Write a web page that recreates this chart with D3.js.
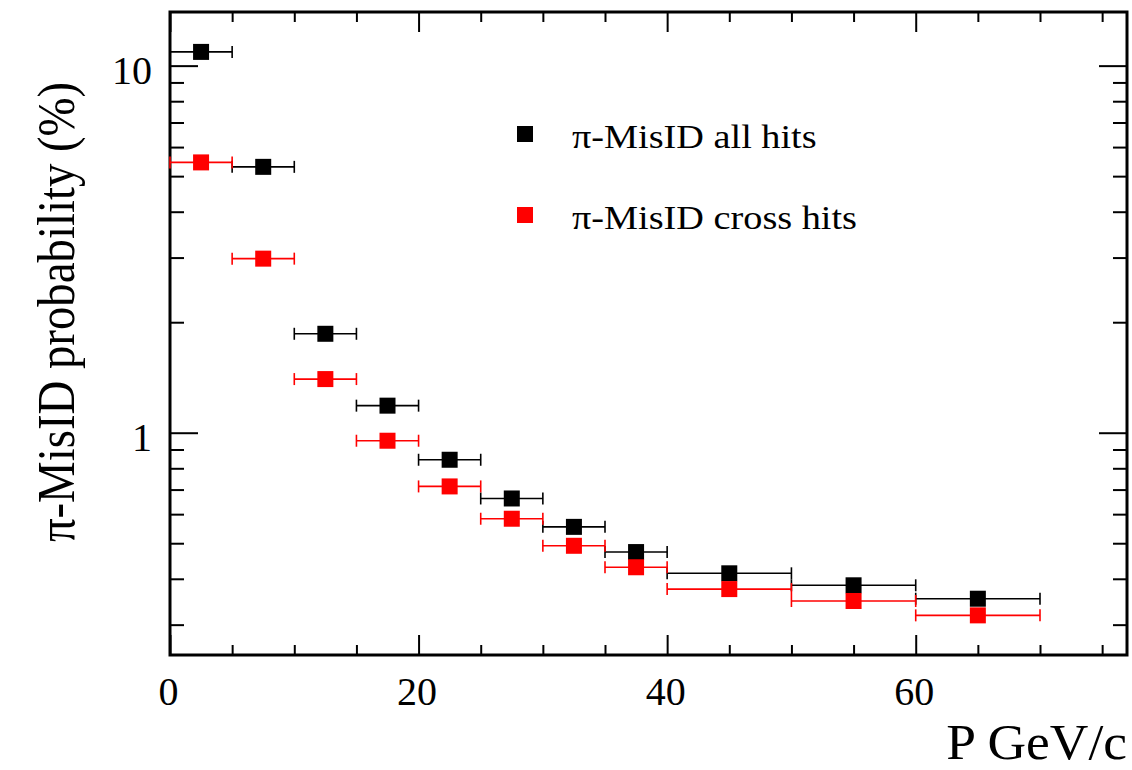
<!DOCTYPE html>
<html>
<head>
<meta charset="utf-8">
<script src="https://cdn.jsdelivr.net/npm/d3@7"></script>
<style>
  html, body { margin: 0; padding: 0; background: #fff; }
  svg { display: block; }
  text { font-family: "Liberation Serif", "DejaVu Serif", serif; fill: #000; }
</style>
</head>
<body>
<svg id="chart" width="1132" height="770"></svg>
<script>
// Momentum bins (GeV/c)
const binLow  = [0, 5, 10, 15, 20, 25, 30, 35, 40, 50, 60];
const binHigh = [5, 10, 15, 20, 25, 30, 35, 40, 50, 60, 70];

// Pion mis-identification probability (%) per bin
const allHits   = [10.9, 5.30, 1.86, 1.185, 0.844, 0.662, 0.554, 0.473, 0.414, 0.384, 0.353];
const crossHits = [5.45, 2.98, 1.40, 0.951, 0.714, 0.583, 0.492, 0.430, 0.375, 0.348, 0.318];

const seriesNames  = ["π-MisID all hits", "π-MisID cross hits"];
const seriesColors = ["#000000", "#ff0000"];

// Axis ticks and labels
const xMajorTicks = [0, 20, 40, 60];
const xMinorTicks = [5, 10, 15, 25, 30, 35, 45, 50, 55, 65, 70, 75];
const yMajorTicks = [1, 10];
const yMajorLabels = ["1", "10"];
const yMinorTicks = [0.3, 0.4, 0.5, 0.6, 0.7, 0.8, 0.9, 2, 3, 4, 5, 6, 7, 8, 9];

const xTitle = "P GeV/c";
const yTitle = "π-MisID probability (%)";

const svg = d3.select("#chart");
const frame = { left: 170, right: 1127, top: 12, bottom: 655 };

const x = d3.scaleLinear().domain([0, 77]).range([frame.left, frame.right]);
const y = d3.scaleLog().domain([0.248, 14.0]).range([frame.bottom, frame.top]);

// --- ticks on all four sides, pointing inward ---
function styleAxis(g) {
  g.select(".domain").remove();
  g.selectAll(".tick line").attr("stroke", "#000").attr("stroke-width", 2);
}

// bottom
svg.append("g").attr("transform", `translate(0,${frame.bottom})`)
  .call(d3.axisBottom(x).tickValues(xMajorTicks).tickSize(-20).tickPadding(0)
        .tickFormat(d3.format("d")))
  .call(styleAxis)
  .call(g => g.selectAll(".tick text")
      .attr("y", 0).attr("dy", 50).attr("dx", -2)
      .attr("font-size", 40).attr("font-family", "Liberation Serif"));
svg.append("g").attr("transform", `translate(0,${frame.bottom})`)
  .call(d3.axisBottom(x).tickValues(xMinorTicks).tickSize(-10).tickFormat(""))
  .call(styleAxis);

// top
svg.append("g").attr("transform", `translate(0,${frame.top})`)
  .call(d3.axisTop(x).tickValues(xMajorTicks).tickSize(-20).tickFormat(""))
  .call(styleAxis);
svg.append("g").attr("transform", `translate(0,${frame.top})`)
  .call(d3.axisTop(x).tickValues(xMinorTicks).tickSize(-10).tickFormat(""))
  .call(styleAxis);

// left
svg.append("g").attr("transform", `translate(${frame.left},0)`)
  .call(d3.axisLeft(y).tickValues(yMajorTicks).tickSize(-28).tickPadding(18)
        .tickFormat((d, i) => yMajorLabels[i]))
  .call(styleAxis)
  .call(g => g.selectAll(".tick text")
      .attr("dy", 18).attr("font-size", 40).attr("font-family", "Liberation Serif"));
svg.append("g").attr("transform", `translate(${frame.left},0)`)
  .call(d3.axisLeft(y).tickValues(yMinorTicks).tickSize(-14).tickFormat(""))
  .call(styleAxis);

// right
svg.append("g").attr("transform", `translate(${frame.right},0)`)
  .call(d3.axisRight(y).tickValues(yMajorTicks).tickSize(-28).tickFormat(""))
  .call(styleAxis);
svg.append("g").attr("transform", `translate(${frame.right},0)`)
  .call(d3.axisRight(y).tickValues(yMinorTicks).tickSize(-14).tickFormat(""))
  .call(styleAxis);

// frame
svg.append("rect")
  .attr("x", frame.left).attr("y", frame.top)
  .attr("width", frame.right - frame.left).attr("height", frame.bottom - frame.top)
  .attr("fill", "none").attr("stroke", "#000").attr("stroke-width", 3);

// --- data: horizontal bin-width error bars with square markers ---
const marker = 16, cap = 6;
[allHits, crossHits].forEach((vals, s) => {
  const color = seriesColors[s];
  const g = svg.append("g").attr("class", "series-" + s);
  const pts = vals.map((v, i) => ({ lo: binLow[i], hi: binHigh[i], c: (binLow[i] + binHigh[i]) / 2, v }));

  g.selectAll("line.err").data(pts).join("line").attr("class", "err")
    .attr("x1", d => x(d.lo)).attr("x2", d => x(d.hi))
    .attr("y1", d => y(d.v)).attr("y2", d => y(d.v))
    .attr("stroke", color).attr("stroke-width", 1.6);
  g.selectAll("line.capL").data(pts).join("line").attr("class", "capL")
    .attr("x1", d => x(d.lo)).attr("x2", d => x(d.lo))
    .attr("y1", d => y(d.v) - cap).attr("y2", d => y(d.v) + cap)
    .attr("stroke", color).attr("stroke-width", 1.6);
  g.selectAll("line.capR").data(pts).join("line").attr("class", "capR")
    .attr("x1", d => x(d.hi)).attr("x2", d => x(d.hi))
    .attr("y1", d => y(d.v) - cap).attr("y2", d => y(d.v) + cap)
    .attr("stroke", color).attr("stroke-width", 1.6);
  g.selectAll("rect.mk").data(pts).join("rect").attr("class", "mk")
    .attr("x", d => x(d.c) - marker / 2).attr("y", d => y(d.v) - marker / 2)
    .attr("width", marker).attr("height", marker)
    .attr("fill", color);
});

// --- legend ---
const legend = svg.append("g");
seriesNames.forEach((name, i) => {
  const cy = 134 + i * 81;
  legend.append("rect")
    .attr("x", 525 - 8).attr("y", cy - 8).attr("width", 16).attr("height", 16)
    .attr("fill", seriesColors[i]);
  legend.append("text")
    .attr("transform", `translate(572,${cy + 14}) scale(1.16,1)`)
    .attr("font-size", 33)
    .text(name);
});

// --- axis titles ---
svg.append("text")
  .attr("transform", "translate(1127,759) scale(1.07,1)")
  .attr("text-anchor", "end").attr("font-size", 50)
  .text(xTitle);

svg.append("text")
  .attr("transform", "translate(74,312) rotate(-90) scale(0.9,1)")
  .attr("text-anchor", "middle").attr("font-size", 52)
  .text(yTitle);
</script>
</body>
</html>
